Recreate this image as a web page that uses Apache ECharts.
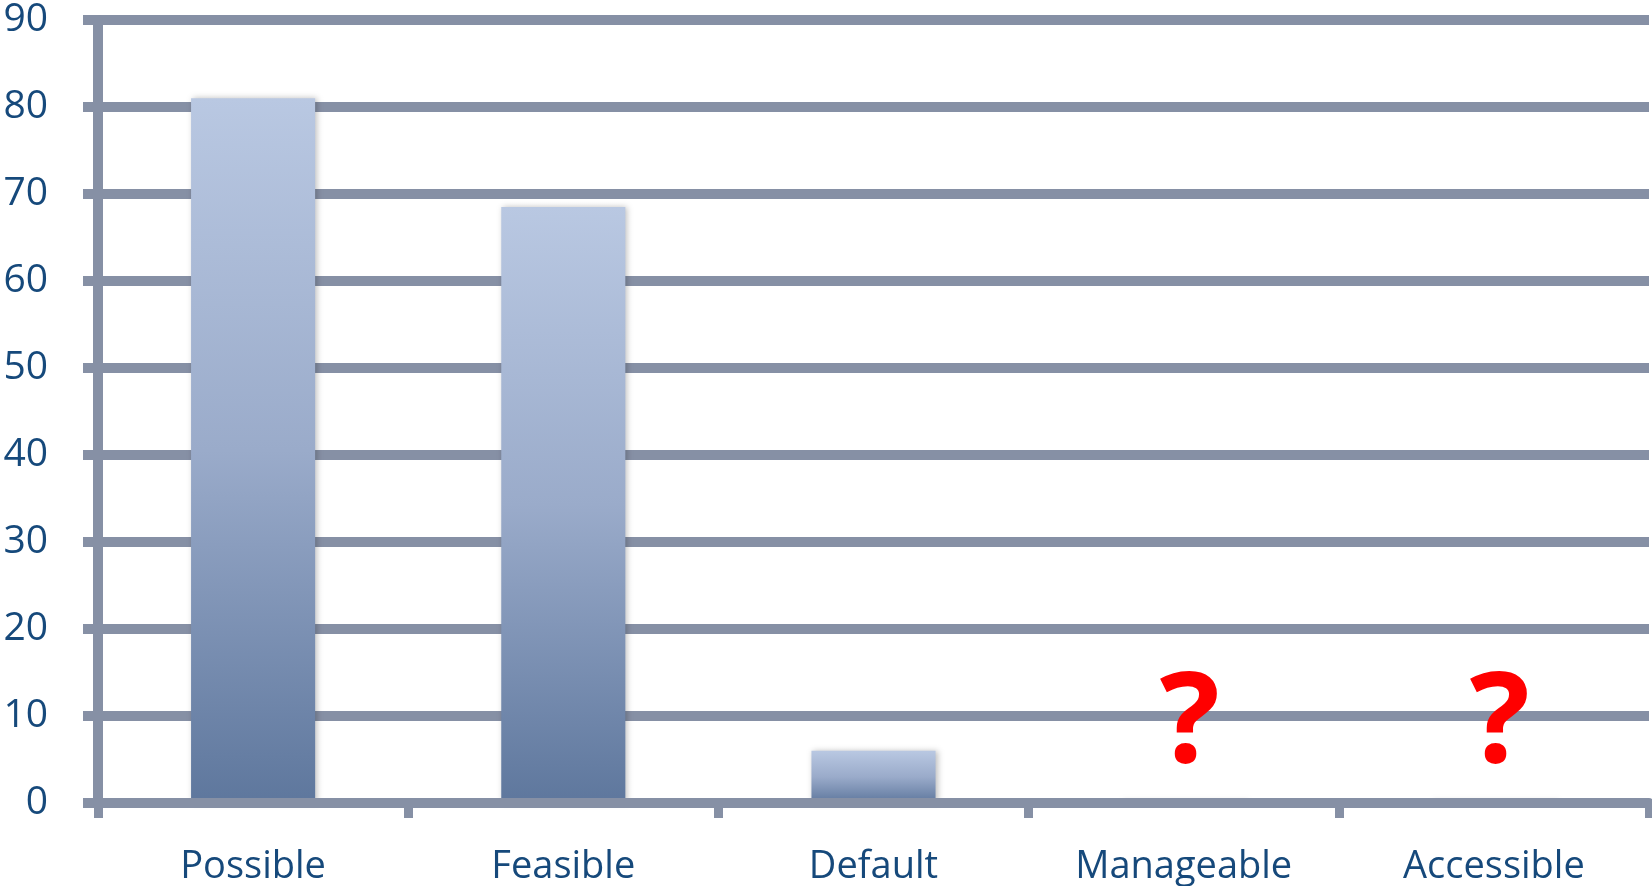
<!DOCTYPE html>
<html>
<head>
<meta charset="utf-8">
<script src="https://cdn.jsdelivr.net/npm/echarts@6/dist/echarts.min.js"></script>
<style>
html,body{margin:0;padding:0;background:#fff;}
#chart{width:1652px;height:886px;}
</style>
</head>
<body>
<div id="chart"></div>
<script>
const categories = ['Possible', 'Feasible', 'Default', 'Manageable', 'Accessible'];
const values = [81, 68.5, 6, 0.4, 0.4];
const marks = ['', '', '', '?', '?'];
const yTicks = { min: 0, max: 90, interval: 10 };

const gridColor = '#8690a5';
const textColor = '#16497b';

const barGradient = new echarts.graphic.LinearGradient(0, 0, 0, 1, [
  { offset: 0, color: '#b9c8e2' },
  { offset: 0.5, color: '#9aabca' },
  { offset: 1, color: '#5e779d' }
]);

const chart = echarts.init(document.getElementById('chart'), null, { renderer: 'canvas' });
chart.setOption({
  animation: false,
  backgroundColor: '#ffffff',
  grid: { left: 98, right: 3, top: 20, bottom: 83, containLabel: false },
  xAxis: {
    type: 'category',
    data: categories,
    z: 5,
    axisLine: { show: true, lineStyle: { color: gridColor, width: 10 } },
    axisTick: { show: true, length: 15, lineStyle: { color: gridColor, width: 9 } },
    axisLabel: {
      margin: 45,
      color: textColor,
      fontFamily: 'Open Sans',
      fontSize: 38,
      interval: 0
    },
    splitLine: { show: false }
  },
  yAxis: {
    type: 'value',
    min: yTicks.min,
    max: yTicks.max,
    interval: yTicks.interval,
    axisLine: { show: true, lineStyle: { color: gridColor, width: 10 } },
    axisTick: { show: true, length: 15, lineStyle: { color: gridColor, width: 10 } },
    axisLabel: {
      margin: 50,
      color: textColor,
      fontFamily: 'Open Sans',
      fontSize: 39
    },
    splitLine: { show: true, lineStyle: { color: gridColor, width: 10 } }
  },
  series: [{
    type: 'bar',
    data: values.map((v, i) => ({
      value: v,
      itemStyle: marks[i] ? { color: '#fdfdfd', shadowColor: 'rgba(0,0,0,0.12)', shadowBlur: 4 } : undefined
    })),
    barWidth: '40%',
    itemStyle: {
      color: barGradient,
      shadowColor: 'rgba(0,0,0,0.25)',
      shadowBlur: 6,
      shadowOffsetX: 2
    },
    label: {
      show: true,
      position: 'top',
      distance: 10,
      offset: [6, 0],
      formatter: p => marks[p.dataIndex],
      color: '#ff0000',
      fontFamily: 'Open Sans',
      fontWeight: 'bold',
      fontSize: 126
    }
  }]
});
</script>
</body>
</html>
